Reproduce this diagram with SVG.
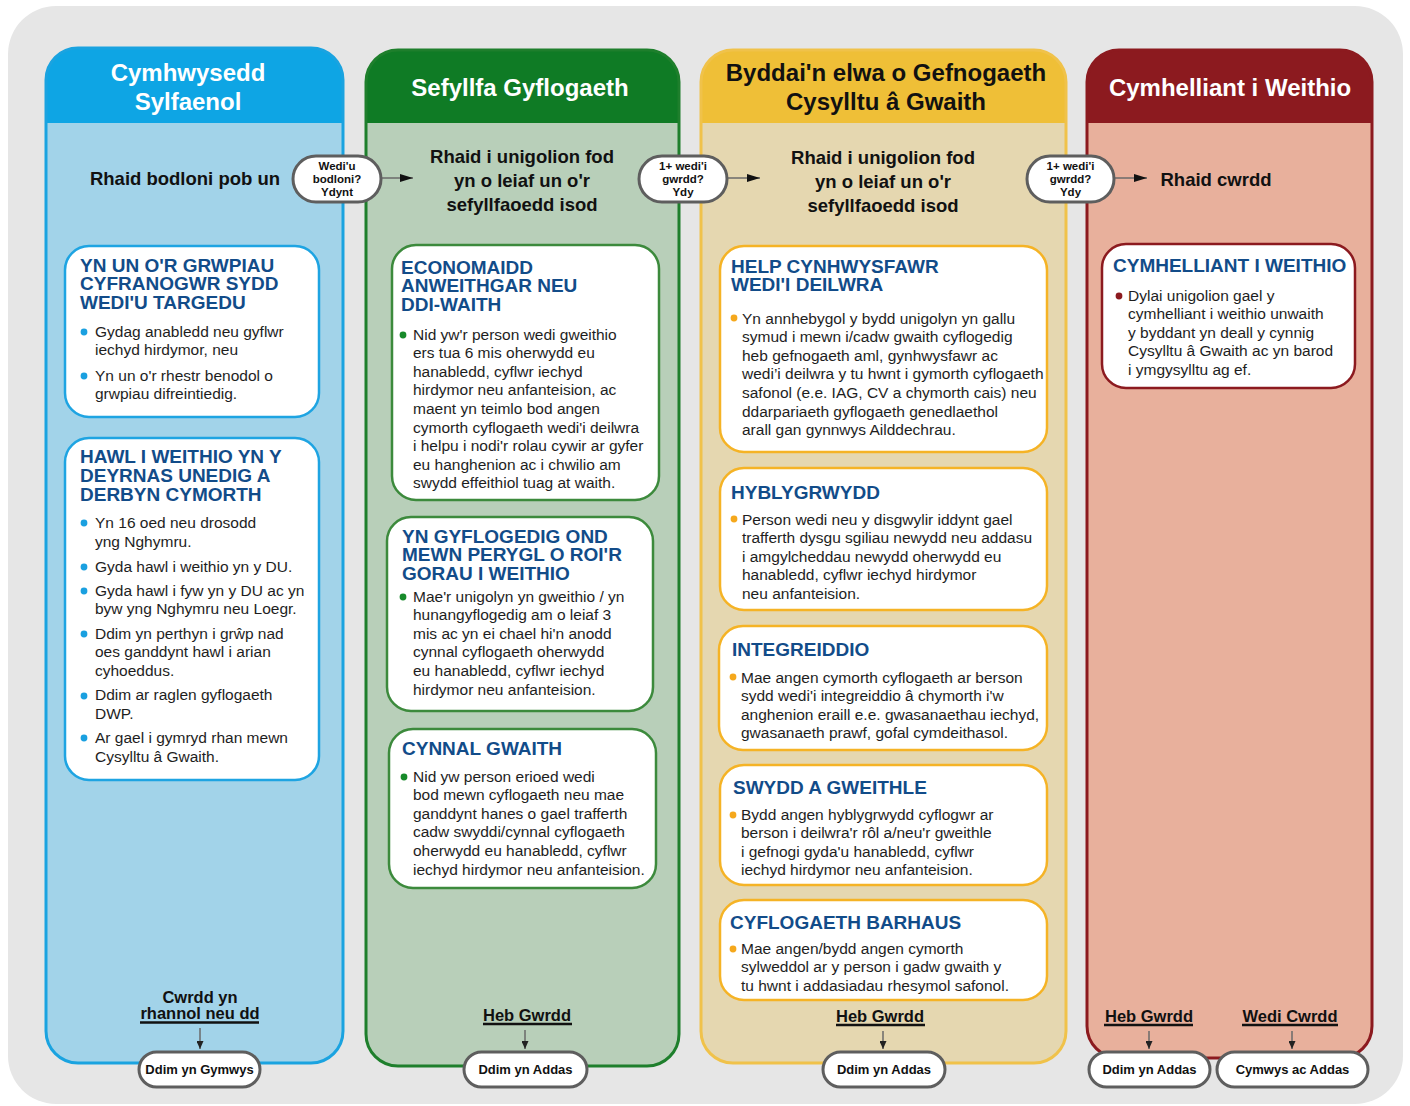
<svg xmlns="http://www.w3.org/2000/svg" width="1410" height="1106" viewBox="0 0 1410 1106">
<style>
text{font-family:"Liberation Sans",Arial,Helvetica,sans-serif}
.hd{font-weight:bold;font-size:24px;text-anchor:middle}
.sub{font-weight:bold;font-size:18.5px;text-anchor:middle;fill:#111}
.bt{font-weight:bold;font-size:19px;fill:#124c89}
.tx{font-size:15.5px;fill:#1e1e1e}
.pill{fill:#fff;stroke:#5e5e5e;stroke-width:3}
.pt{font-weight:bold;font-size:11.5px;text-anchor:middle;fill:#111}
.pb{font-weight:bold;font-size:13px;text-anchor:middle;fill:#111}
.lab{font-weight:bold;font-size:16.5px;text-anchor:middle;fill:#111}
.ul{stroke:#111;stroke-width:2.5}
.cn{stroke:#6a6a6a;stroke-width:1.5;fill:none}
.box{fill:#fff;stroke-width:2.5}
</style>
<defs>
<marker id="ah" markerUnits="userSpaceOnUse" markerWidth="13" markerHeight="8" refX="13" refY="4" orient="auto">
<path d="M0,0 L13,4 L0,8 Z" fill="#111"/>
</marker>
<marker id="ahs" markerUnits="userSpaceOnUse" markerWidth="8" markerHeight="7" refX="8" refY="3.5" orient="auto">
<path d="M0,0 L8,3.5 L0,7 Z" fill="#222"/>
</marker>
</defs>

<rect x="8" y="6" width="1395" height="1098" rx="48" fill="#e6e6e6"/>

<!-- Column 1 -->
<g id="col1">
<rect x="46" y="48" width="297" height="1015" rx="32" fill="#a2d3e9"/>
<path d="M46,123 V80 A32,32 0 0 1 78,48 H311 A32,32 0 0 1 343,80 V123 Z" fill="#0ea5e4"/>
<rect x="46" y="48" width="297" height="1015" rx="32" fill="none" stroke="#1aa3e0" stroke-width="3"/>
<text class="hd" fill="#fff"><tspan x="188" y="80.5">Cymhwysedd</tspan><tspan x="188" y="109.5">Sylfaenol</tspan></text>
<text class="sub" x="185" y="184.5">Rhaid bodloni pob un</text>
</g>

<!-- Column 2 -->
<g id="col2">
<rect x="366" y="50" width="313" height="1016" rx="32" fill="#b8cfb9"/>
<path d="M366,123 V82 A32,32 0 0 1 398,50 H647 A32,32 0 0 1 679,82 V123 Z" fill="#0f7b25"/>
<rect x="366" y="50" width="313" height="1016" rx="32" fill="none" stroke="#1e7f2c" stroke-width="3"/>
<text class="hd" fill="#fff" x="520" y="95.5">Sefyllfa Gyflogaeth</text>
<text class="sub"><tspan x="522" y="162.5">Rhaid i unigolion fod</tspan><tspan x="522" y="186.5">yn o leiaf un o'r</tspan><tspan x="522" y="210.5">sefyllfaoedd isod</tspan></text>
</g>

<!-- Column 3 -->
<g id="col3">
<rect x="701" y="50" width="365" height="1013" rx="32" fill="#e5d7b0"/>
<path d="M701,123 V82 A32,32 0 0 1 733,50 H1034 A32,32 0 0 1 1066,82 V123 Z" fill="#efbf37"/>
<rect x="701" y="50" width="365" height="1013" rx="32" fill="none" stroke="#f0c24a" stroke-width="3"/>
<text class="hd" fill="#111"><tspan x="886" y="80.5">Byddai'n elwa o Gefnogaeth</tspan><tspan x="886" y="109.5">Cysylltu â Gwaith</tspan></text>
<text class="sub"><tspan x="883" y="163.5">Rhaid i unigolion fod</tspan><tspan x="883" y="187.5">yn o leiaf un o'r</tspan><tspan x="883" y="211.5">sefyllfaoedd isod</tspan></text>
</g>

<!-- Column 4 -->
<g id="col4">
<rect x="1087" y="50" width="285" height="1008" rx="32" fill="#e8b09c"/>
<path d="M1087,123 V82 A32,32 0 0 1 1119,50 H1340 A32,32 0 0 1 1372,82 V123 Z" fill="#8c1a1f"/>
<rect x="1087" y="50" width="285" height="1008" rx="32" fill="none" stroke="#8c1a1f" stroke-width="3"/>
<text class="hd" fill="#fff" x="1230" y="95.5">Cymhelliant i Weithio</text>
<text class="sub" x="1216" y="185.5">Rhaid cwrdd</text>
</g>

<!-- Boxes column 1 -->
<g id="boxA">
<rect class="box" x="65" y="246" width="254" height="171" rx="24" stroke="#1ea4e2"/>
<text class="bt"><tspan x="80" y="271.5">YN UN O'R GRWPIAU</tspan><tspan x="80" y="290">CYFRANOGWR SYDD</tspan><tspan x="80" y="308.5">WEDI'U TARGEDU</tspan></text>
<g fill="#1aa0e0"><circle cx="84" cy="332" r="3.4"/><circle cx="84" cy="376" r="3.4"/></g>
<text class="tx"><tspan x="95" y="336.5">Gydag anabledd neu gyflwr</tspan><tspan x="95" y="354.5">iechyd hirdymor, neu</tspan><tspan x="95" y="380.5">Yn un o'r rhestr benodol o</tspan><tspan x="95" y="398.5">grwpiau difreintiedig.</tspan></text>
</g>
<g id="boxB">
<rect class="box" x="65" y="438" width="254" height="342" rx="24" stroke="#1ea4e2"/>
<text class="bt"><tspan x="80" y="462.5">HAWL I WEITHIO YN Y</tspan><tspan x="80" y="481.5">DEYRNAS UNEDIG A</tspan><tspan x="80" y="500.5">DERBYN CYMORTH</tspan></text>
<g fill="#1aa0e0"><circle cx="84" cy="523" r="3.4"/><circle cx="84" cy="567" r="3.4"/><circle cx="84" cy="591" r="3.4"/><circle cx="84" cy="634" r="3.4"/><circle cx="84" cy="696" r="3.4"/><circle cx="84" cy="738" r="3.4"/></g>
<text class="tx"><tspan x="95" y="527.5">Yn 16 oed neu drosodd</tspan><tspan x="95" y="546.5">yng Nghymru.</tspan><tspan x="95" y="571.5">Gyda hawl i weithio yn y DU.</tspan><tspan x="95" y="595.5">Gyda hawl i fyw yn y DU ac yn</tspan><tspan x="95" y="613.5">byw yng Nghymru neu Loegr.</tspan><tspan x="95" y="638.5">Ddim yn perthyn i grŵp nad</tspan><tspan x="95" y="656.5">oes ganddynt hawl i arian</tspan><tspan x="95" y="675.5">cyhoeddus.</tspan><tspan x="95" y="699.5">Ddim ar raglen gyflogaeth</tspan><tspan x="95" y="718.5">DWP.</tspan><tspan x="95" y="742.5">Ar gael i gymryd rhan mewn</tspan><tspan x="95" y="761.5">Cysylltu â Gwaith.</tspan></text>
</g>

<!-- Boxes column 2 -->
<g id="boxC">
<rect class="box" x="392" y="245" width="267" height="255" rx="24" stroke="#3c8a3c"/>
<text class="bt"><tspan x="401" y="273.5">ECONOMAIDD</tspan><tspan x="401" y="292">ANWEITHGAR NEU</tspan><tspan x="401" y="310.5">DDI-WAITH</tspan></text>
<circle cx="403" cy="335" r="3.4" fill="#178a2a"/>
<text class="tx"><tspan x="413" y="339.5">Nid yw'r person wedi gweithio</tspan><tspan x="413" y="358.1">ers tua 6 mis oherwydd eu</tspan><tspan x="413" y="376.7">hanabledd, cyflwr iechyd</tspan><tspan x="413" y="395.3">hirdymor neu anfanteision, ac</tspan><tspan x="413" y="413.9">maent yn teimlo bod angen</tspan><tspan x="413" y="432.5">cymorth cyflogaeth wedi'i deilwra</tspan><tspan x="413" y="451.1">i helpu i nodi'r rolau cywir ar gyfer</tspan><tspan x="413" y="469.7">eu hanghenion ac i chwilio am</tspan><tspan x="413" y="488.3">swydd effeithiol tuag at waith.</tspan></text>
</g>
<g id="boxD">
<rect class="box" x="387" y="517" width="266" height="194" rx="24" stroke="#3c8a3c"/>
<text class="bt"><tspan x="402" y="542.5">YN GYFLOGEDIG OND</tspan><tspan x="402" y="561">MEWN PERYGL O ROI'R</tspan><tspan x="402" y="579.5">GORAU I WEITHIO</tspan></text>
<circle cx="403" cy="597" r="3.4" fill="#178a2a"/>
<text class="tx"><tspan x="413" y="601.5">Mae'r unigolyn yn gweithio / yn</tspan><tspan x="413" y="620.1">hunangyflogedig am o leiaf 3</tspan><tspan x="413" y="638.7">mis ac yn ei chael hi'n anodd</tspan><tspan x="413" y="657.3">cynnal cyflogaeth oherwydd</tspan><tspan x="413" y="675.9">eu hanabledd, cyflwr iechyd</tspan><tspan x="413" y="694.5">hirdymor neu anfanteision.</tspan></text>
</g>
<g id="boxE">
<rect class="box" x="389" y="729" width="267" height="159" rx="24" stroke="#3c8a3c"/>
<text class="bt" x="402" y="754.5">CYNNAL GWAITH</text>
<circle cx="404" cy="777" r="3.4" fill="#178a2a"/>
<text class="tx"><tspan x="413" y="781.5">Nid yw person erioed wedi</tspan><tspan x="413" y="800.1">bod mewn cyflogaeth neu mae</tspan><tspan x="413" y="818.7">ganddynt hanes o gael trafferth</tspan><tspan x="413" y="837.3">cadw swyddi/cynnal cyflogaeth</tspan><tspan x="413" y="855.9">oherwydd eu hanabledd, cyflwr</tspan><tspan x="413" y="874.5">iechyd hirdymor neu anfanteision.</tspan></text>
</g>

<!-- Boxes column 3 -->
<g id="boxF">
<rect class="box" x="720" y="246" width="327" height="206" rx="24" stroke="#f5b325"/>
<text class="bt"><tspan x="731" y="272.5">HELP CYNHWYSFAWR</tspan><tspan x="731" y="291">WEDI'I DEILWRA</tspan></text>
<circle cx="734" cy="318" r="3.4" fill="#f5a81c"/>
<text class="tx"><tspan x="742" y="323.5">Yn annhebygol y bydd unigolyn yn gallu</tspan><tspan x="742" y="342.1">symud i mewn i/cadw gwaith cyflogedig</tspan><tspan x="742" y="360.7">heb gefnogaeth aml, gynhwysfawr ac</tspan><tspan x="742" y="379.3">wedi’i deilwra y tu hwnt i gymorth cyflogaeth</tspan><tspan x="742" y="397.9">safonol (e.e. IAG, CV a chymorth cais) neu</tspan><tspan x="742" y="416.5">ddarpariaeth gyflogaeth genedlaethol</tspan><tspan x="742" y="435.1">arall gan gynnwys Ailddechrau.</tspan></text>
</g>
<g id="boxG">
<rect class="box" x="720" y="468" width="327" height="142" rx="24" stroke="#f5b325"/>
<text class="bt" x="731" y="498.5">HYBLYGRWYDD</text>
<circle cx="734" cy="519" r="3.4" fill="#f5a81c"/>
<text class="tx"><tspan x="742" y="524.5">Person wedi neu y disgwylir iddynt gael</tspan><tspan x="742" y="543.1">trafferth dysgu sgiliau newydd neu addasu</tspan><tspan x="742" y="561.7">i amgylcheddau newydd oherwydd eu</tspan><tspan x="742" y="580.3">hanabledd, cyflwr iechyd hirdymor</tspan><tspan x="742" y="598.9">neu anfanteision.</tspan></text>
</g>
<g id="boxH">
<rect class="box" x="719" y="626" width="328" height="124" rx="24" stroke="#f5b325"/>
<text class="bt" x="732" y="655.5">INTEGREIDDIO</text>
<circle cx="733" cy="677" r="3.4" fill="#f5a81c"/>
<text class="tx"><tspan x="741" y="682.5">Mae angen cymorth cyflogaeth ar berson</tspan><tspan x="741" y="701.1">sydd wedi'i integreiddio â chymorth i'w</tspan><tspan x="741" y="719.7">anghenion eraill e.e. gwasanaethau iechyd,</tspan><tspan x="741" y="738.3">gwasanaeth prawf, gofal cymdeithasol.</tspan></text>
</g>
<g id="boxI">
<rect class="box" x="720" y="765" width="327" height="120" rx="24" stroke="#f5b325"/>
<text class="bt" x="733" y="793.5">SWYDD A GWEITHLE</text>
<circle cx="733" cy="815" r="3.4" fill="#f5a81c"/>
<text class="tx"><tspan x="741" y="819.5">Bydd angen hyblygrwydd cyflogwr ar</tspan><tspan x="741" y="838.1">berson i deilwra'r rôl a/neu'r gweithle</tspan><tspan x="741" y="856.7">i gefnogi gyda'u hanabledd, cyflwr</tspan><tspan x="741" y="875.3">iechyd hirdymor neu anfanteision.</tspan></text>
</g>
<g id="boxJ">
<rect class="box" x="720" y="900" width="327" height="100" rx="24" stroke="#f5b325"/>
<text class="bt" x="730" y="928.5">CYFLOGAETH BARHAUS</text>
<circle cx="733" cy="949" r="3.4" fill="#f5a81c"/>
<text class="tx"><tspan x="741" y="953.5">Mae angen/bydd angen cymorth</tspan><tspan x="741" y="972.1">sylweddol ar y person i gadw gwaith y</tspan><tspan x="741" y="990.7">tu hwnt i addasiadau rhesymol safonol.</tspan></text>
</g>

<!-- Box column 4 -->
<g id="boxK">
<rect class="box" x="1102" y="244" width="253" height="144" rx="24" stroke="#8c1a1f"/>
<text class="bt" x="1113" y="271.5">CYMHELLIANT I WEITHIO</text>
<circle cx="1119" cy="296" r="3.4" fill="#8c1a1f"/>
<text class="tx"><tspan x="1128" y="300.5">Dylai unigolion gael y</tspan><tspan x="1128" y="319.1">cymhelliant i weithio unwaith</tspan><tspan x="1128" y="337.7">y byddant yn deall y cynnig</tspan><tspan x="1128" y="356.3">Cysylltu â Gwaith ac yn barod</tspan><tspan x="1128" y="374.9">i ymgysylltu ag ef.</tspan></text>
</g>

<!-- Bottom labels -->
<g id="labels">
<text class="lab"><tspan x="200" y="1003">Cwrdd yn</tspan><tspan x="200" y="1019">rhannol neu dd</tspan></text>
<line class="ul" x1="140" y1="1022.5" x2="259" y2="1022.5"/>
<text class="lab" x="527" y="1021">Heb Gwrdd</text>
<line class="ul" x1="483" y1="1024" x2="572" y2="1024"/>
<text class="lab" x="880" y="1022">Heb Gwrdd</text>
<line class="ul" x1="836" y1="1025" x2="925" y2="1025"/>
<text class="lab" x="1149" y="1022">Heb Gwrdd</text>
<line class="ul" x1="1104" y1="1025" x2="1193" y2="1025"/>
<text class="lab" x="1290" y="1022">Wedi Cwrdd</text>
<line class="ul" x1="1242" y1="1025" x2="1338" y2="1025"/>
</g>

<!-- Connectors -->
<g id="connectors">
<line class="cn" x1="382" y1="178" x2="413" y2="178" marker-end="url(#ah)"/>
<line class="cn" x1="728" y1="178" x2="760" y2="178" marker-end="url(#ah)"/>
<line class="cn" x1="1115" y1="178" x2="1147" y2="178" marker-end="url(#ah)"/>
<line class="cn" x1="200" y1="1028" x2="200" y2="1049" marker-end="url(#ahs)"/>
<line class="cn" x1="525" y1="1030" x2="525" y2="1049" marker-end="url(#ahs)"/>
<line class="cn" x1="883" y1="1031" x2="883" y2="1049" marker-end="url(#ahs)"/>
<line class="cn" x1="1149" y1="1031" x2="1149" y2="1049" marker-end="url(#ahs)"/>
<line class="cn" x1="1292" y1="1031" x2="1292" y2="1049" marker-end="url(#ahs)"/>
</g>

<!-- Decision pills -->
<g id="pill1">
<rect class="pill" x="293" y="156" width="88" height="46" rx="23"/>
<text class="pt"><tspan x="337" y="170">Wedi'u</tspan><tspan x="337" y="183">bodloni?</tspan><tspan x="337" y="195.5">Ydynt</tspan></text>
</g>
<g id="pill2">
<rect class="pill" x="639" y="156" width="88" height="46" rx="23"/>
<text class="pt"><tspan x="683" y="170">1+ wedi'i</tspan><tspan x="683" y="183">gwrdd?</tspan><tspan x="683" y="195.5">Ydy</tspan></text>
</g>
<g id="pill3">
<rect class="pill" x="1027" y="156" width="87" height="46" rx="23"/>
<text class="pt"><tspan x="1070.5" y="170">1+ wedi'i</tspan><tspan x="1070.5" y="183">gwrdd?</tspan><tspan x="1070.5" y="195.5">Ydy</tspan></text>
</g>

<!-- Outcome pills -->
<g id="out1">
<rect class="pill" x="139" y="1052" width="121" height="35" rx="17.5"/>
<text class="pb" x="199.5" y="1073.5">Ddim yn Gymwys</text>
</g>
<g id="out2">
<rect class="pill" x="464" y="1052" width="123" height="35" rx="17.5"/>
<text class="pb" x="525.5" y="1073.5">Ddim yn Addas</text>
</g>
<g id="out3">
<rect class="pill" x="823" y="1052" width="122" height="35" rx="17.5"/>
<text class="pb" x="884" y="1073.5">Ddim yn Addas</text>
</g>
<g id="out4">
<rect class="pill" x="1089" y="1052" width="121" height="35" rx="17.5"/>
<text class="pb" x="1149.5" y="1073.5">Ddim yn Addas</text>
</g>
<g id="out5">
<rect class="pill" x="1217" y="1052" width="151" height="35" rx="17.5" stroke="#2e8b3a"/>
<text class="pb" x="1292.5" y="1073.5">Cymwys ac Addas</text>
</g>
</svg>
